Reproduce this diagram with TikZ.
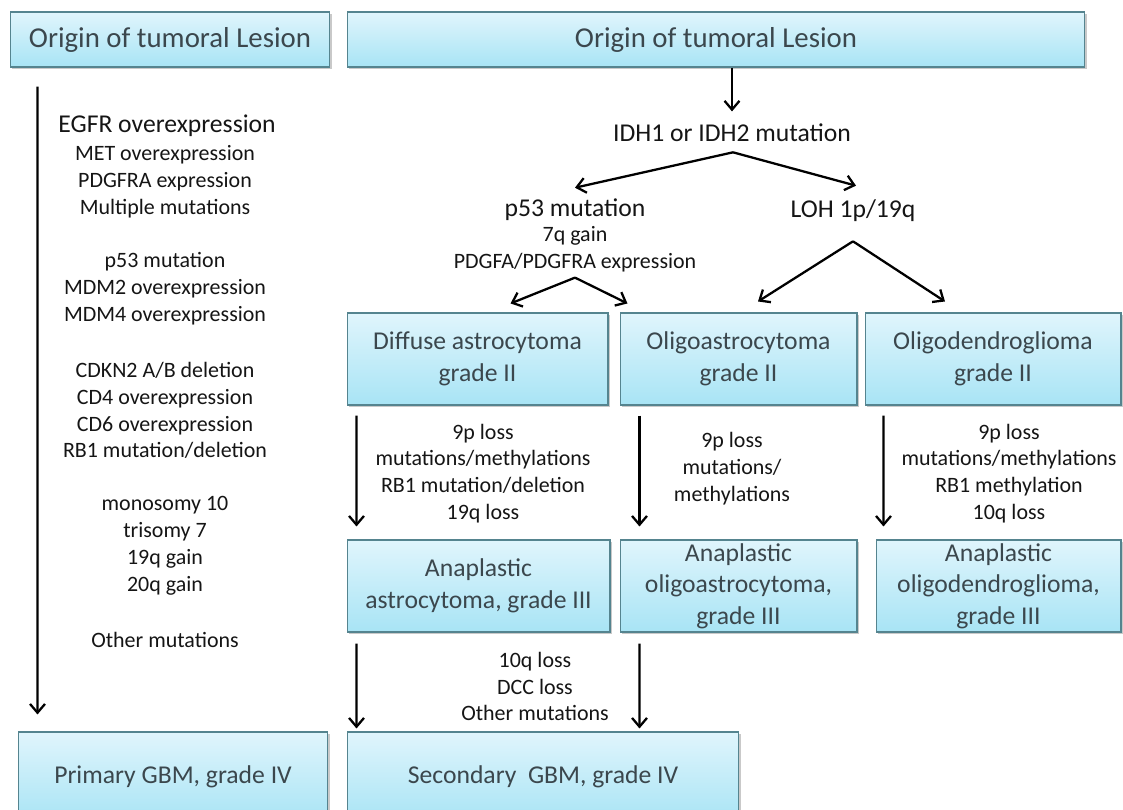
\documentclass[tikz,border=0pt]{standalone}
\usepackage{fontspec}
\setmainfont{Carlito}
\usetikzlibrary{positioning,calc,shadows,arrows.meta}

\definecolor{boxtop}{HTML}{E0F5FC}
\definecolor{boxbot}{HTML}{A8E4F5}
\definecolor{boxline}{HTML}{55848F}
\definecolor{boxtext}{HTML}{3B474D}
\definecolor{notetext}{HTML}{151515}

\tikzset{
  box/.style={draw=boxline, line width=0.6pt, top color=boxtop, bottom color=boxbot,
    text=boxtext, align=center, inner sep=0pt, font=\fontsize{14.6}{18}\selectfont,
    drop shadow={shadow xshift=1.2pt, shadow yshift=-1.2pt, opacity=0.3, fill=black!70}},
  headbox/.style={box, minimum height=1.1cm, font=\fontsize{16.4}{19}\selectfont},
  note/.style={align=center, inner sep=0pt, text=notetext, font=\fontsize{12.5}{15.3}\selectfont},
  bignote/.style={note, font=\fontsize{14.6}{17}\selectfont},
  arr/.style={-{Straight Barb[length=5pt,width=8.5pt]}, line width=1.3pt},
}

\begin{document}
\begin{tikzpicture}[x=0.02cm, y=-0.02cm]
  \useasboundingbox (0,0) rectangle (1123,809);
  \clip (0,0) rectangle (1123,809);

  \node[headbox, minimum width=6.4cm] (hdrL) at (170,39.5) {Origin of tumoral Lesion};
  \node[headbox, minimum width=14.76cm] (hdrR) at (716,39.5) {Origin of tumoral Lesion};

  \node[bignote] (egfr) at (167,126) {EGFR overexpression};
  \node[note] (grpA) at (165,182) {MET overexpression\\PDGFRA expression\\Multiple mutations};
  \node[note] (grpB) at (165,289) {p53 mutation\\MDM2 overexpression\\MDM4 overexpression};
  \node[note] (grpC) at (165,410.5) {CDKN2 A/B deletion\\CD4 overexpression\\CD6 overexpression\\RB1 mutation/deletion};
  \node[note] (grpD) at (165,545.5) {monosomy 10\\trisomy 7\\19q gain\\20q gain};
  \node[note] (grpE) at (165,640) {Other mutations};

  \node[bignote] (idh) at (732,133) {IDH1 or IDH2 mutation};
  \node[bignote] (p53) at (575,210) {p53 mutation};
  \node[note] (p53x) at (575,249.5) {7q gain\\PDGFA/PDGFRA expression};
  \node[bignote] (loh) at (853,211) {LOH 1p/19q};

  \node[box, minimum width=5.22cm, minimum height=1.84cm] (diff) at (477.5,359) {Diffuse astrocytoma\\grade II};
  \node[box, minimum width=4.74cm, minimum height=1.84cm] (oa2) at (738.5,359) {Oligoastrocytoma\\grade II};
  \node[box, minimum width=5.12cm, minimum height=1.84cm] (od2) at (993,359) {Oligodendroglioma\\grade II};

  \node[note] (lossA) at (483,473.5) {9p loss\\mutations/methylations\\RB1 mutation/deletion\\19q loss};
  \node[note] (lossB) at (732,469) {9p loss\\mutations/\\methylations};
  \node[note] (lossC) at (1009,473.5) {9p loss\\mutations/methylations\\RB1 methylation\\10q loss};

  \node[box, minimum width=5.26cm, minimum height=1.84cm] (astro3) at (478.5,586) {Anaplastic\\astrocytoma, grade III};
  \node[box, minimum width=4.74cm, minimum height=1.84cm] (oa3) at (738.5,586) {Anaplastic\\oligoastrocytoma,\\grade III};
  \node[box, minimum width=4.9cm, minimum height=1.84cm] (od3) at (998.5,586) {Anaplastic\\oligodendroglioma,\\grade III};

  \node[note] (lossD) at (535,686.5) {10q loss\\DCC loss\\Other mutations};

  \node[box, minimum width=6.2cm, minimum height=1.8cm] (gbm1) at (173,777) {Primary GBM, grade IV};
  \node[box, minimum width=7.84cm, minimum height=1.8cm] (gbm2) at (543,777) {Secondary\ \ GBM, grade IV};

  \draw[arr] ($(hdrL.south west)+(28,19)$) -- ($(gbm1.north west)+(20,-17)$);
  \draw[arr, shorten >=7pt] (idh.north |- hdrR.south) -- (idh.north);
  \draw[arr] ($(idh.south)+(1,10)$) coordinate (fork) -- ($(p53.north)+(0,-11)$);
  \draw[arr] (fork) -- ($(loh.north)+(3,-14)$);
  \draw[arr] ($(p53x.south)+(0,5)$) coordinate (forkB) -- ($(diff.north)+(33,-9)$);
  \draw[arr] (forkB) -- ($(oa2.north west)+(8,-9)$);
  \draw[arr] ($(loh.south)+(0,19)$) coordinate (forkC) -- ($(oa2.north)+(19.5,-11)$);
  \draw[arr] (forkC) -- ($(od2.north)+(-48,-11)$);
  \draw[arr] ($(diff.south west)+(10,10)$) -- ($(astro3.north west)+(10,-13)$);
  \draw[arr] ($(oa2.south west)+(20,10)$) -- ($(oa3.north west)+(20,-13)$);
  \draw[arr] ($(od2.south west)+(19,10)$) -- ($(od3.north west)+(8,-13)$);
  \draw[arr] ($(astro3.south west)+(10,11)$) -- ($(gbm2.north west)+(10,-3)$);
  \draw[arr] ($(oa3.south west)+(20,11)$) -- ($(gbm2.north west)+(293,-3)$);
\end{tikzpicture}
\end{document}
